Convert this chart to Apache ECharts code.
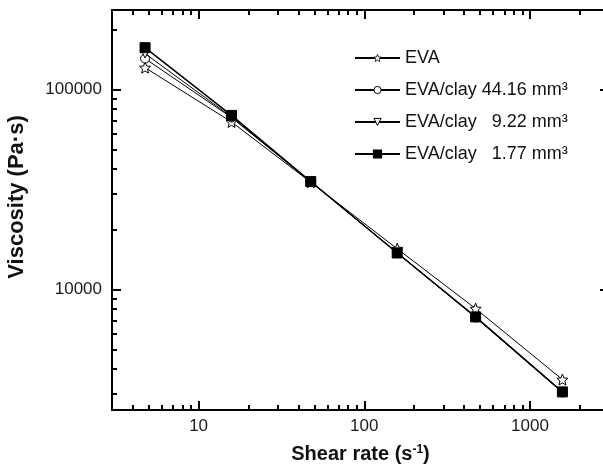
<!DOCTYPE html>
<html><head><meta charset="utf-8">
<script src="https://cdn.jsdelivr.net/npm/echarts@6/dist/echarts.min.js"></script>
<style>html,body{margin:0;padding:0;background:#fff}#c{width:603px;height:468px}</style>
</head><body><div id="c"></div><script>
// ---- data ----
const shearRate = [4.75, 15.8, 47.5, 158, 470, 1570];
const viscEVA    = [128800, 68900, 34400, 16000, 8030, 3550];
const viscClay44 = [142900, 72500, 34600, 15300, 7250, 3060];
const viscClay9  = [151400, 73000, 34600, 15250, 7270, 3070];
const viscClay1  = [162000, 74300, 34700, 15240, 7300, 3080];
const seriesNames = ['EVA', 'EVA/clay 44.16 mm³', 'EVA/clay   9.22 mm³', 'EVA/clay   1.77 mm³'];
const xMajorTicks = [10, 100, 1000];
const xMinorTicks = [4, 5, 6, 7, 8, 9, 20, 30, 40, 50, 60, 70, 80, 90, 200, 300, 400, 500, 600, 700, 800, 900, 2000];
const yMajorTicks = [10000, 100000];
const yMinorTicks = [3000, 4000, 5000, 6000, 7000, 8000, 9000, 20000, 30000, 40000, 50000, 60000, 70000, 80000, 90000, 200000];

const FONT = '"Liberation Sans", Arial, Helvetica, sans-serif';
const STAR = 'path://M0,-10 L2.6,-3.6 L9.51,-3.09 L4.3,1.4 L5.88,8.09 L0,4.5 L-5.88,8.09 L-4.3,1.4 L-9.51,-3.09 L-2.6,-3.6 Z';
const TRI = 'path://M0,0 L10,0 L5,9 Z';

function pairs(ys) { return shearRate.map((x, i) => [x, ys[i]]); }

const lineAx = { show: true, onZero: false, lineStyle: { color: '#000', width: 2 } };

function xAx(pos, ticks, len, labels, extra) {
  return Object.assign({
    type: 'log', logBase: 10, min: 3, max: 3000, position: pos, gridIndex: 0,
    axisLine: lineAx,
    axisTick: { show: true, inside: true, length: len, customValues: ticks, lineStyle: { color: '#000', width: 2 } },
    axisLabel: labels ? { show: true, customValues: ticks, formatter: v => String(Math.round(v)), fontSize: 17, color: '#1a1a1a', fontFamily: FONT, margin: 8 } : { show: false },
    splitLine: { show: false }, minorTick: { show: false }
  }, extra || {});
}
function yAx(pos, ticks, len, labels, extra) {
  return Object.assign({
    type: 'log', logBase: 10, min: 2500, max: 250000, position: pos, gridIndex: 0,
    axisLine: lineAx,
    axisTick: { show: true, inside: true, length: len, customValues: ticks, lineStyle: { color: '#000', width: 2 } },
    axisLabel: labels ? { show: true, customValues: ticks, formatter: v => String(Math.round(v)), fontSize: 17, color: '#1a1a1a', fontFamily: FONT, margin: 10 } : { show: false },
    splitLine: { show: false }, minorTick: { show: false }
  }, extra || {});
}

const hollow = { color: '#fff', borderColor: '#000', borderWidth: 1 };

const chart = echarts.init(document.getElementById('c'), null, { renderer: 'canvas' });
chart.setOption({
  animation: false,
  backgroundColor: '#fff',
  grid: { left: 112, right: -6, top: 10, bottom: 58, containLabel: false, outerBoundsMode: 'none' },
  xAxis: [
    xAx('bottom', xMajorTicks, 9, true, {
      name: 'Shear rate (s{sup|-1})', nameLocation: 'middle', nameGap: 34,
      nameTextStyle: { fontSize: 20, fontWeight: 'bold', color: '#111', fontFamily: FONT,
        rich: { sup: { fontSize: 12, fontWeight: 'bold', color: '#111', fontFamily: FONT, verticalAlign: 'top' } } }
    }),
    xAx('bottom', xMinorTicks, 5, false),
    xAx('top', xMajorTicks, 9, false),
    xAx('top', xMinorTicks, 5, false)
  ],
  yAxis: [
    yAx('left', yMajorTicks, 9, true, {
      name: 'Viscosity (Pa·s)', nameLocation: 'middle', nameGap: 84, nameRotate: 90,
      nameTextStyle: { fontSize: 22, fontWeight: 'bold', color: '#111', fontFamily: FONT, padding: [0, 0, 0, 26] }
    }),
    yAx('left', yMinorTicks, 5, false),
    yAx('right', yMajorTicks, 9, false),
    yAx('right', yMinorTicks, 5, false)
  ],
  legend: {
    orient: 'vertical', left: 349, top: 44, itemWidth: 45, itemHeight: 9, itemGap: 14,
    textStyle: { fontSize: 18, color: '#111', fontFamily: FONT },
    data: [
      { name: seriesNames[0], itemStyle: { color: '#fff', borderColor: '#000', borderWidth: 0.8 } },
      { name: seriesNames[1], itemStyle: hollow },
      { name: seriesNames[2], itemStyle: hollow },
      { name: seriesNames[3] }
    ]
  },
  series: [
    { name: seriesNames[0], type: 'line', data: pairs(viscEVA), symbol: STAR, symbolSize: 11,
      lineStyle: { color: '#000', width: 1 }, itemStyle: hollow, z: 3 },
    { name: seriesNames[1], type: 'line', data: pairs(viscClay44), symbol: 'circle', symbolSize: 9,
      lineStyle: { color: '#000', width: 1 }, itemStyle: hollow, z: 4 },
    { name: seriesNames[2], type: 'line', data: pairs(viscClay9), symbol: TRI, symbolSize: 9,
      lineStyle: { color: '#000', width: 1 }, itemStyle: hollow, z: 5 },
    { name: seriesNames[3], type: 'line', data: pairs(viscClay1), symbol: 'rect', symbolSize: 10,
      lineStyle: { color: '#000', width: 1.5 }, itemStyle: { color: '#000', borderColor: '#000', borderWidth: 1 }, z: 6 }
  ]
});
</script></body></html>
